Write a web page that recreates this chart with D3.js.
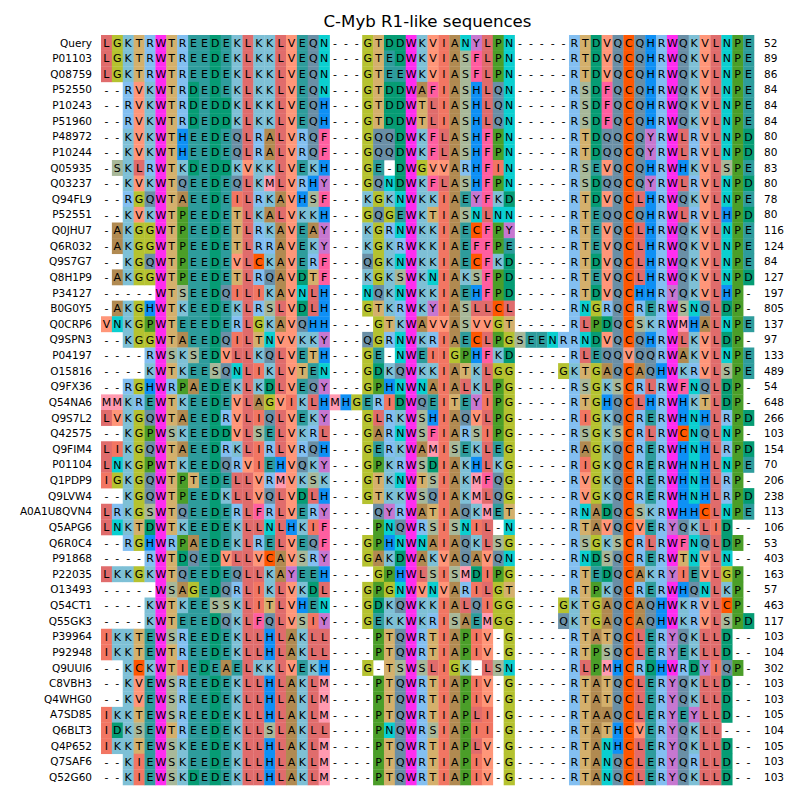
<!DOCTYPE html>
<html><head><meta charset="utf-8">
<script src="https://cdn.jsdelivr.net/npm/d3@7"></script>
<style>body{margin:0;background:#fff} text{font-family:"DejaVu Sans",sans-serif;fill:#000}</style>
</head><body><svg id="c" width="800" height="800"></svg>
<script>
const title = "C-Myb R1-like sequences";
const names = ["Query","P01103","Q08759","P52550","P10243","P51960","P48972","P10244",
"Q05935","Q03237","Q94FL9","P52551","Q0JHU7","Q6R032","Q9S7G7","Q8H1P9",
"P34127","B0G0Y5","Q0CRP6","Q9SPN3","P04197","O15816","Q9FX36","Q54NA6",
"Q9S7L2","Q42575","Q9FIM4","P01104","Q1PDP9","Q9LVW4","A0A1U8QVN4","Q5APG6",
"Q6R0C4","P91868","P22035","O13493","Q54CT1","Q55GK3","P39964","P92948",
"Q9UUI6","C8VBH3","Q4WHG0","A7SD85","Q6BLT3","Q4P652","Q7SAF6","Q52G60"];
const seqs = [
"LGKTRWTREEDEKLKKLVEQN---GTDDWKVIANYLPN-----RTDVQCQHRWQKVLNPE",
"LGKTRWTREEDEKLKKLVEQN---GTEDWKVIASFLPN-----RTDVQCQHRWQKVLNPE",
"LGKTRWTREEDEKLKKLVEQN---GTEEWKVIASFLPN-----RTDVQCQHRWQKVLNPE",
"--RVKWTRDEDEKLKKLVEQN---GTDDWAFIASHLQN-----RSDFQCQHRWQKVLNPE",
"--RVKWTRDEDDKLKKLVEQH---GTDDWTLIASHLQN-----RSDFQCQHRWQKVLNPE",
"--RVKWTRDEDDKLKKLVEQH---GTDDWTLIASHLQN-----RSDFQCQHRWQKVLNPE",
"--KVKWTHEEDEQLRALVRQF---GQQDWKFLASHFPN-----RTDQQCQYRWLRVLNPD",
"--KVKWTHEEDEQLRALVRQF---GQQDWKFLASHFPN-----RTDQQCQYRWLRVLNPD",
"-SKLRWTKDEDDKVKKLVEKH---GE-DWGVVARHFIN-----RSEVQCQHRWHKVLSPE",
"--KVKWTQEEDEQLKMLVRHY---GQNDWKFLASHFPN-----RSDQQCQYRWLRVLNPD",
"--RGQWTAEEDEILRKAVHSF---KGKNWKKIAEYFKD-----RTDVQCLHRWQKVLNPE",
"--KVKWTPEEDETLKALVKKH---GQGEWKTIASNLNN-----RTEQQCQHRWLRVLHPD",
"-AKGGWTPEEDETLRKAVEAY---KGRNWKKIAECFPY-----RTEVQCLHRWQKVLNPE",
"-AKGGWTPEEDETLRRAVEKY---KGKRWKKIAEFFPE-----RTEVQCLHRWQKVLNPE",
"--KGQWTPEEDEVLCKAVERF---QGKNWKKIAECFKD-----RTDVQCLHRWQKVLNPE",
"-AKGGWTPEEDETLRQAVDTF---KGKSWKNIAKSFPD-----RTEVQCLHRWQKVLNPD",
"-----WTSEEDQILIKAVNLH---NQKNWKKIAEHFPD-----RTDVQCHHRYQKVLHP-",
"-AKGHWTKEEDEKLRSLVDLH---GTKRWKYIASLLCL-----RNGRQCRERWSNQLDP-",
"VNKGPWTEEEDERLGKAVQHH----GTKWAVVASVVGT-----RLPDQCSKRWMHALNPE",
"--KGGWTAEEDQILTNVVKKY---QGRNWKRIAECLPGSEENRRNDVQCQHRWLKVLDP-",
"----RWSKSEDVLLKQLVETH---GE-NWEIIGPHFKD-----RLEQQVQQRWAKVLNPE",
"----KWTKEESQNLIKLVTEN---GDKQWKKIATKLGG----GKTGAQCAQHWKRVLSPE",
"--RGHWRPAEDEKLKDLVEQY---GPHNWNAIALKLPG-----RSGKSCRLRWFNQLDP-",
"MMKREWTKEEDEVLAGVIKLHMHGERIDWQEITEYIPG-----RTGHQCLHRWHKTLDP-",
"LVKGQWTAEEDRVLIQLVEKY---GLRKWSHIAQVLPG-----RIGKQCRERWHNHLRPD",
"--KGPWSKEEDDVLSELVKRL---GARNWSFIARSIPG-----RSGKSCRLRWCNQLNP-",
"LIKGQWTAEEDRKLIRLVRQH---GERKWAMISEKLEG-----RAGKQCRERWHNHLRPD",
"LNKGPWTKEEDQRVIEHVQKY---GPKRWSDIAKHLKG-----RIGKQCRERWHNHLNPE",
"IGKGQWTPTEDELLVRMVKSK---GTKNWTSIAKMFQG-----RVGKQCRERWHNHLRP-",
"--KGQWTPEEDKLLVQLVDLH---GTKKWSQIAKMLQG-----RVGKQCRERWHNHLRPD",
"LRKGSWTQEEDERLFRLVERY----QYRWATIAQKMET-----RNADQCSKRWHHCLNPE",
"LNKTDWTKEEDEKLLNLHKIF----PNQWRSISNIL-N-----RTAVQCVERYQKLID--",
"--RGHWRPAEDEKLRELVEQF---GPHNWNAIAQKLSG-----RSGKSCRLRWFNQLDP-",
"----RWTDQEDVLLVCAVSRY---GAKDWAKVAQAVQN-----RNDSQCRERWTNVLN--",
"LKKGKWTQEEDEQLLKAYEEH----GPHWLSISMDIPG-----RTEDQCAKRYIEVLGP-",
"-----WSAGEDQRLIKLVKDL---GPGNWVNVARILGT-----RTPKQCRERWHQNLKP-",
"----KWTKEESSKLITLVHEN---GDKQWKKIALQIGG----GKTGAQCAQHWKRVLCP-",
"----KWTEEEDQKLFQLVSIY---GEKKWKRISAEMGG----QKTGAQCAQHWKRVLSPD",
"IKKTEWSREEDEKLLHLAKLL----PTQWRTIAPIV-G-----RTATQCLERYQKLLD--",
"IKKTEWTREEDEKLLHLAKLL----PTQWRTIAPIV-G-----RTPSQCLERYEKLLD--",
"--KCKWTIEDEAELKKLVEKH---G-TSWSLIGK-LSN-----RLPMHCRDHWRDYIQP-",
"--KVEWSREEDEKLLHLAKLM----PTQWRTIAPIV-G-----RTATQCLERYQKLLD--",
"--KVEWSREEDEKLLHLAKLM----PTQWRTIAPIV-G-----RTATQCLERYQKLLD--",
"IKKTEWSREEDEKLLHLAKLM----PTQWRTIAPLI-G-----RTAAQCLERYEYLLD--",
"IDKSEWTREEDEKLLSLAKLL----PNQWRSIAPII-G-----RTATHCVERYQKLL---",
"IKKTEWSKEEDEKLLHLAKLM----PTQWRTIAPLV-G-----RTANHCLERYQKLLD--",
"--KIEWSKEEDEKLLHLAKLM----PTQWRTIAPIV-G-----RTANQCLERYQRLLD--",
"--KIEWSKDEDEKLLHLAKLM----PTQWRTIAPIV-G-----RTANQCLERYQKLLD--"];
const ends = [52,89,86,84,84,84,80,80,83,80,78,80,116,124,84,127,197,805,137,97,133,489,54,648,
266,103,154,70,206,238,113,106,53,403,163,57,463,117,103,104,302,103,103,105,104,105,103,103];
const residues = ["A","R","N","D","C","Q","E","G","H","I","L","K","M","F","P","S","T","W","Y","V"];
const residueColors = ["#B18A51","#83BFF1","#0BCFD0","#069C74","#FF5701","#6A8FA6","#2E9C9C","#B5C230",
"#0E90F5","#F27663","#E06C6C","#7EC0D6","#FF9AB0","#FF5EA0","#4B9E29","#A8B899","#D4B06C","#FF2CF0","#C777D0","#FF9679"];

const svg = d3.select("#c");
const nCol = seqs[0].length;
const x = d3.scaleBand().domain(d3.range(nCol)).range([101, 754]);
const y = d3.scaleBand().domain(names).range([35, 785]);
const color = d3.scaleOrdinal().domain(residues).range(residueColors);

const cells = [];
seqs.forEach((s, r) => s.split("").forEach((ch, c) => cells.push({name: names[r], col: c, ch})));

svg.append("g").selectAll("rect").data(cells.filter(d => d.ch !== "-")).join("rect")
  .attr("x", d => x(d.col)).attr("y", d => y(d.name))
  .attr("width", x.bandwidth() + 0.3).attr("height", y.bandwidth() + 0.3)
  .attr("fill", d => color(d.ch));

svg.append("g").selectAll("text").data(cells).join("text")
  .attr("x", d => x(d.col) + x.bandwidth() / 2).attr("y", d => y(d.name) + y.bandwidth() / 2)
  .attr("dy", "0.36em").attr("text-anchor", "middle").style("font-size", "11px")
  .text(d => d.ch);

svg.append("g").selectAll("text").data(names).join("text")
  .attr("x", 92).attr("y", d => y(d) + y.bandwidth() / 2).attr("dy", "0.36em")
  .attr("text-anchor", "end").style("font-size", "10.5px").text(d => d);

svg.append("g").selectAll("text").data(ends).join("text")
  .attr("x", 764).attr("y", (d, i) => y(names[i]) + y.bandwidth() / 2).attr("dy", "0.36em")
  .style("font-size", "10.5px").text(d => d);

svg.append("text").attr("x", 427.5).attr("y", 21).attr("dy", "0.36em")
  .attr("text-anchor", "middle").style("font-size", "16.6px").text(title);
</script></body></html>
